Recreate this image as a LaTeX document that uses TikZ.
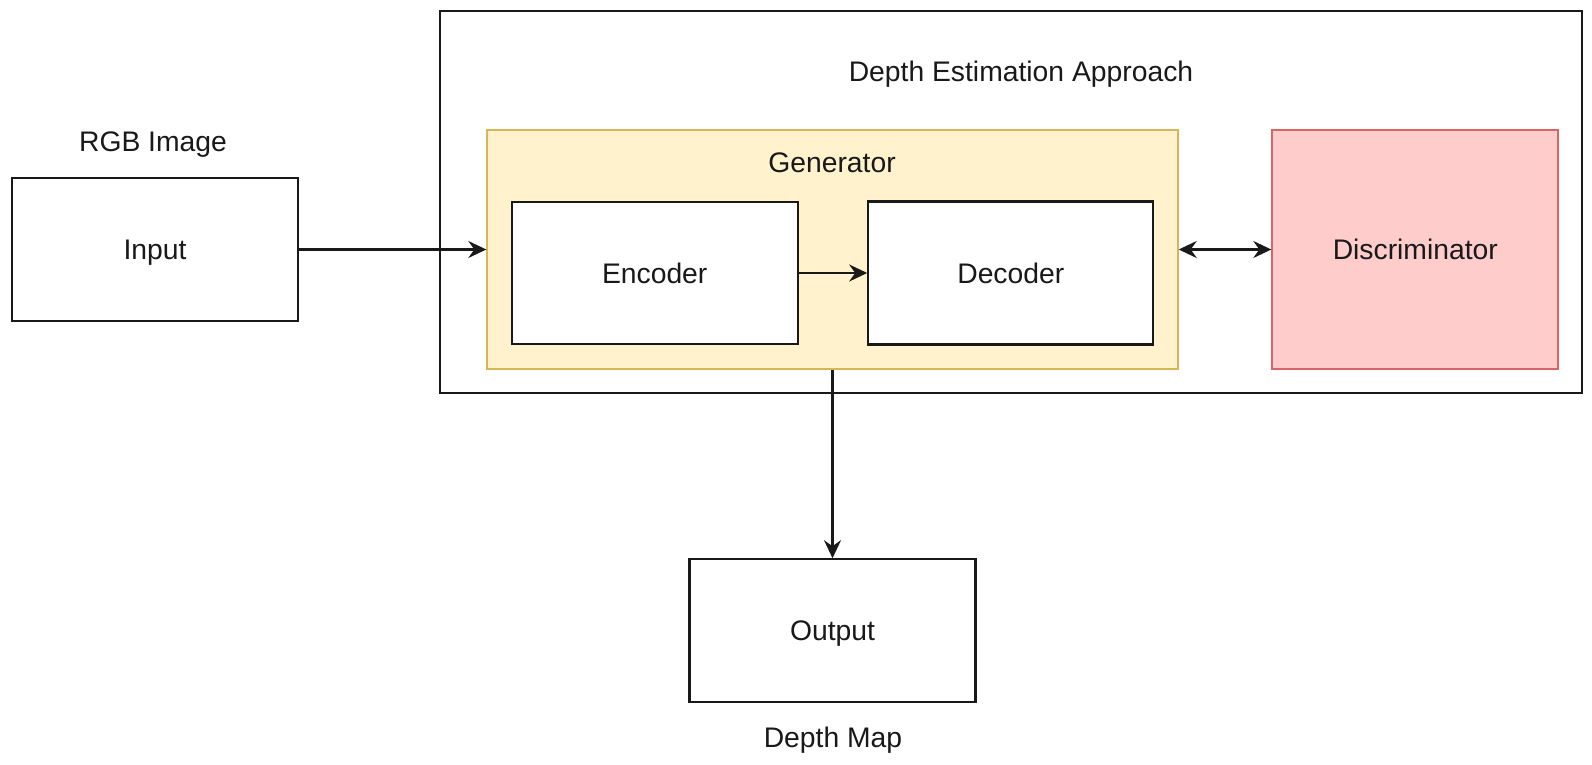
\documentclass[tikz,border=0pt]{standalone}
\usepackage{fontspec}
\setmainfont{Liberation Sans}
\usetikzlibrary{arrows.meta}
\definecolor{genfill}{HTML}{FFF2CC}
\definecolor{genline}{HTML}{D6B656}
\definecolor{disfill}{HTML}{FFCCCC}
\definecolor{disline}{HTML}{D96666}
\tikzset{
  every node/.style={font=\fontsize{28.3}{34}\selectfont, text=black!90, text depth=0pt},
  box/.style={draw=black!90, line width=2.2pt, fill=white, inner sep=0pt},
  genbox/.style={draw=genline, line width=2pt, fill=genfill, inner sep=0pt},
  disbox/.style={draw=disline, line width=2pt, fill=disfill, inner sep=0pt},
  frame/.style={draw=black!90, line width=2.2pt, inner sep=0pt},
  label/.style={inner sep=0pt},
  tip/.tip={Stealth[length=18pt,width=17pt,inset=6pt]},
  conn/.style={draw=black!90, line width=2.2pt, -tip},
  dconn/.style={draw=black!90, line width=2.2pt, tip-tip}
}
\begin{document}
\begin{tikzpicture}[x=1pt,y=-1pt]
\useasboundingbox (0,0) rectangle (1592,765);
\node[frame, minimum width=1141.7pt, minimum height=382.3pt] (outer) at (1010.9,202.2) {};
\node[label] (title) at (1021,71) {Depth Estimation Approach};
\node[genbox, minimum width=690.4pt, minimum height=239pt] (gen) at (832.5,249.5) {};
\node[label] (genlabel) at (832,163) {Generator};
\node[box, minimum width=286pt, minimum height=142.6pt] (enc) at (654.7,273) {Encoder};
\node[box, minimum width=285pt, minimum height=143pt] (dec) at (1010.8,273) {Decoder};
\node[disbox, minimum width=286pt, minimum height=238.3pt] (dis) at (1415.3,249.5) {Discriminator};
\node[box, minimum width=286pt, minimum height=143pt] (in) at (155,249.5) {Input};
\node[label] (rgb) at (153,142) {RGB Image};
\node[box, minimum width=286pt, minimum height=143pt] (out) at (832.5,630.8) {Output};
\node[label] (dmap) at (833,737) {Depth Map};
\draw[conn] (in.east) -- (gen.west);
\draw[conn] (enc.east) -- (dec.west);
\draw[dconn] (gen.east) -- (dis.west);
\draw[conn] (gen.south) -- (out.north);
\end{tikzpicture}
\end{document}
